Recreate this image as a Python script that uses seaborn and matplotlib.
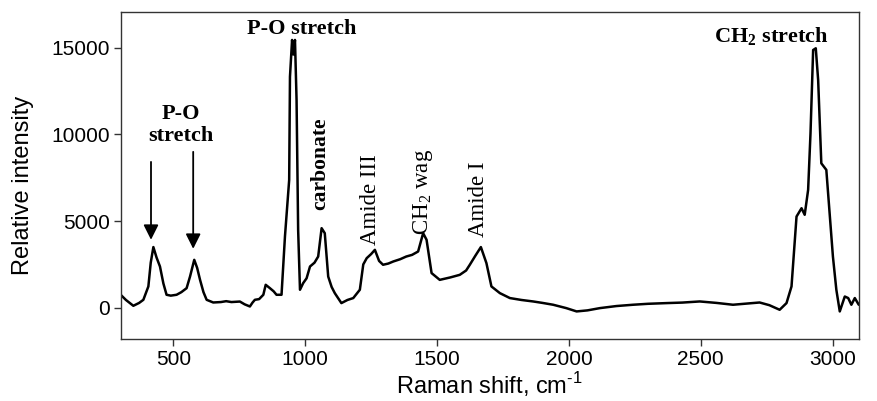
import matplotlib

matplotlib.use("Agg")
import matplotlib.pyplot as plt
import pandas as pd
import seaborn as sns

# Raman shift (cm-1) and relative intensity
raman_shift = [
    300, 320, 348, 370, 386, 405, 414, 424, 436, 449,
    462, 474, 490, 512, 530, 550, 563, 579, 590, 601,
    614, 626, 651, 680, 700, 720, 752, 770, 790, 800,
    809, 825, 841, 850, 866, 880, 891, 910, 923, 939,
    942, 950, 955, 961, 967, 973, 980, 992, 1005, 1018,
    1035, 1049, 1062, 1074, 1087, 1100, 1112, 1137, 1160, 1182,
    1207, 1220, 1233, 1250, 1264, 1280, 1295, 1315, 1334, 1360,
    1383, 1405, 1428, 1447, 1460, 1479, 1510, 1550, 1586, 1610,
    1624, 1645, 1666, 1687, 1706, 1738, 1776, 1820, 1864, 1900,
    1940, 1990, 2029, 2070, 2117, 2180, 2243, 2300, 2370, 2430,
    2496, 2560, 2622, 2680, 2723, 2760, 2799, 2825, 2844, 2863,
    2882, 2894, 2907, 2916, 2926, 2936, 2945, 2957, 2976, 3001,
    3014, 3027, 3046, 3059, 3071, 3084, 3099,
]
intensity = [
    750, 450, 115, 280, 460, 1230, 2600, 3500, 2900, 2380,
    1400, 750, 700, 750, 900, 1130, 1800, 2765, 2300, 1610,
    900, 460, 305, 330, 380, 330, 360, 200, 75, 300,
    460, 500, 750, 1325, 1130, 950, 750, 750, 4110, 7370,
    13320, 15440, 14600, 15440, 11980, 4490, 1040, 1420, 1700, 2380,
    2600, 2955, 4590, 4300, 1800, 1200, 845, 270, 450, 560,
    1040, 2500, 2860, 3100, 3340, 2700, 2480, 2550, 2670, 2800,
    2955, 3050, 3245, 4300, 3920, 2000, 1610, 1750, 1900, 2150,
    2480, 3000, 3500, 2575, 1230, 845, 560, 450, 365, 280,
    175, -20, -210, -150, -20, 100, 175, 230, 270, 300,
    365, 280, 175, 250, 305, 150, -115, 270, 1230, 5260,
    5740, 5360, 6800, 10060, 14860, 14960, 13130, 8330, 7950, 2955,
    1040, -210, 650, 560, 175, 560, 175,
]

# band labels: text, x, y, rotation, weight, size
band_text = ["P-O stretch", "P-O\nstretch", "carbonate", "Amide III",
             r"CH$_\mathregular{2}$ wag", "Amide I", r"CH$_\mathregular{2}$ stretch"]
band_x = [988, 529, 1055, 1249, 1446, 1658, 2769]
band_y = [16070, 10540, 5645, 3630, 4200, 4090, 15630]
band_rot = [0, 0, 90, 90, 90, 90, 0]
band_weight = ["bold", "bold", "bold", "normal", "normal", "normal", "bold"]
band_size = [16, 16, 15.5, 16.5, 16.5, 16.5, 16]

# arrows for the two low P-O peaks: x, tail y, head y
arrow_x = [415, 575]
arrow_tail = [8410, 8990]
arrow_head = [3920, 3400]

df = pd.DataFrame({"shift": raman_shift, "intensity": intensity})

sns.set_style("ticks")
plt.rcParams["font.family"] = ["Liberation Sans", "DejaVu Sans"]
plt.rcParams["text.color"] = "black"
plt.rcParams["axes.labelcolor"] = "black"
plt.rcParams["mathtext.fontset"] = "custom"
plt.rcParams["mathtext.rm"] = "Liberation Sans"

fig = plt.figure(figsize=(8.77, 4.01), dpi=100)
ax = fig.add_axes([0.1376, 0.1546, 0.8419, 0.8154])

sns.lineplot(data=df, x="shift", y="intensity", ax=ax, color="black",
             linewidth=1.8, sort=False)

ax.set_xlim(300, 3100)
ax.set_ylim(-1800, 17050)
ax.set_xticks([500, 1000, 1500, 2000, 2500, 3000])
ax.set_yticks([0, 5000, 10000, 15000])
ax.tick_params(direction="out", length=5, width=1, labelsize=15,
               colors="#333333", labelcolor="black", pad=3)
for sp in ax.spines.values():
    sp.set_color("#333333")
    sp.set_linewidth(1)

ax.set_xlabel(r"Raman shift, cm$^{\text{-1}}$", fontsize=17, labelpad=1)
ax.set_ylabel("Relative intensity", fontsize=17)
ax.yaxis.set_label_coords(-0.118, 0.47)

for t, x, y, r, w, s in zip(band_text, band_x, band_y, band_rot, band_weight, band_size):
    va = "bottom" if r == 90 else "center"
    ax.text(x, y, t, rotation=r, ha="center", va=va, fontsize=s,
            fontweight=w, family="Liberation Serif", linespacing=1.1)

for x, y0, y1 in zip(arrow_x, arrow_tail, arrow_head):
    ax.annotate("", xy=(x, y1), xytext=(x, y0),
                arrowprops=dict(arrowstyle="-|>,head_width=0.45,head_length=0.9",
                                color="black", lw=1.3, shrinkA=0, shrinkB=0))

plt.savefig("out.png", dpi=100)
plt.close()
